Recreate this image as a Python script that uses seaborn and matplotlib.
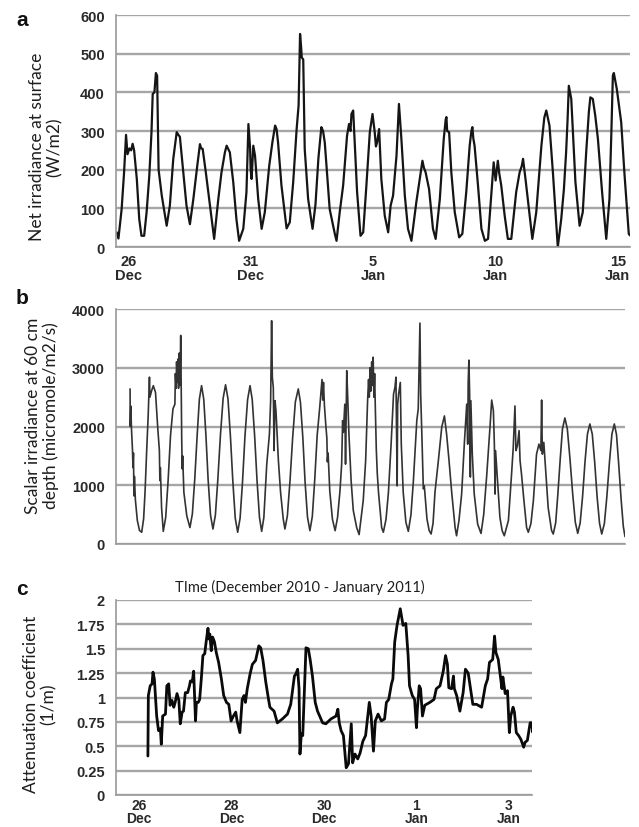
import matplotlib
matplotlib.use("Agg")
import matplotlib.pyplot as plt
import seaborn as sns

# ---- data (x in days since 26 Dec 2010, 00:00) ----

# a: net irradiance at surface (W/m2)
a_day = [0.03, 0.10, 0.23, 0.33, 0.41, 0.47, 0.55, 0.62, 0.68, 0.74, 0.85, 0.95,
         1.04, 1.15, 1.25, 1.36, 1.45, 1.50, 1.57, 1.63, 1.68, 1.74, 1.87,
         2.07, 2.20, 2.34, 2.48, 2.55, 2.61, 2.75, 2.88,
         3.02, 3.16, 3.32, 3.43, 3.48, 3.54, 3.67, 3.84,
         4.01, 4.18, 4.31, 4.45, 4.52, 4.65, 4.79, 4.92,
         5.03, 5.20, 5.33, 5.41, 5.48, 5.50, 5.54, 5.61, 5.68, 5.81, 5.95,
         6.08, 6.26, 6.39, 6.50, 6.56, 6.62, 6.76, 6.97,
         7.10, 7.24, 7.38, 7.46, 7.52, 7.56, 7.59, 7.65, 7.71, 7.85,
         8.03, 8.15, 8.27, 8.39, 8.46, 8.53, 8.60, 8.73, 8.94,
         9.01, 9.14, 9.28, 9.44, 9.52, 9.58, 9.62, 9.69, 9.76, 9.85,
         9.99, 10.10, 10.23, 10.37, 10.48, 10.57, 10.62, 10.67, 10.75, 10.84, 10.98,
         11.12, 11.22, 11.32, 11.46, 11.56, 11.66, 11.80, 11.93,
         12.07, 12.27, 12.41, 12.52, 12.58, 12.65, 12.79, 12.95,
         13.06, 13.23, 13.39, 13.47, 13.50, 13.53, 13.61, 13.70, 13.84,
         14.02, 14.15, 14.31, 14.45, 14.52, 14.56, 14.60, 14.65, 14.79, 14.93,
         15.07, 15.20, 15.33, 15.43, 15.51, 15.60, 15.66, 15.74, 15.88,
         16.01, 16.15, 16.35, 16.49, 16.58, 16.63, 16.73, 16.87,
         17.01, 17.17, 17.38, 17.50, 17.58, 17.71, 17.85,
         18.05, 18.19, 18.30, 18.39, 18.45, 18.50, 18.60, 18.77, 18.94,
         19.07, 19.21, 19.32, 19.38, 19.48, 19.58, 19.69, 19.86,
         20.03, 20.16, 20.24, 20.30, 20.34, 20.46, 20.64, 20.77, 20.95, 21.0]
a_val = [38, 22, 98, 193, 290, 240, 255, 250, 267, 250, 176, 72,
         29, 29, 90, 184, 297, 396, 400, 450, 443, 200, 133,
         55, 107, 228, 297, 290, 285, 193, 107,
         59, 124, 210, 266, 255, 254, 193, 107,
         21, 124, 193, 245, 262, 245, 168, 72,
         16, 47, 142, 318, 254, 200, 176, 262, 236, 124, 47,
         90, 210, 271, 314, 305, 271, 159, 48,
         64, 168, 305, 366, 551, 520, 490, 485, 254, 124,
         47, 110, 230, 310, 300, 270, 210, 98, 34,
         16, 90, 159, 288, 318, 300, 344, 353, 262, 142,
         29, 38, 159, 297, 344, 297, 260, 271, 305, 176, 81,
         38, 107, 133, 236, 370, 279, 133, 47,
         16, 116, 176, 223, 205, 193, 150, 47,
         21, 124, 279, 330, 336, 300, 297, 193, 90,
         25, 34, 142, 262, 300, 310, 280, 262, 159, 47,
         16, 21, 133, 219, 172, 223, 190, 159, 81,
         21, 21, 142, 193, 210, 228, 176, 98,
         21, 90, 262, 335, 353, 314, 193,
         0, 72, 150, 245, 330, 417, 383, 168, 55,
         90, 245, 350, 387, 383, 340, 279, 142,
         21, 124, 300, 443, 450, 409, 323, 193, 34, 30]

# b: scalar irradiance at 60 cm depth (micromole/m2/s)
b_day = [0.58, 0.59, 0.61, 0.64, 0.68, 0.70, 0.72, 0.74, 0.76, 0.80, 0.88, 0.97,
         1.06, 1.14, 1.20, 1.26, 1.33, 1.38, 1.40, 1.47, 1.54, 1.63, 1.72, 1.79, 1.81, 1.83, 1.88,
         1.95, 2.05, 2.15, 2.25, 2.35, 2.43, 2.45, 2.48, 2.50, 2.53, 2.56, 2.58, 2.61, 2.64,
         2.67, 2.69, 2.71, 2.73, 2.75, 2.80, 2.92,
         3.05, 3.15, 3.25, 3.35, 3.44, 3.53, 3.62, 3.71, 3.80, 3.90,
         4.00, 4.10, 4.20, 4.31, 4.42, 4.52, 4.62, 4.72, 4.82, 4.92,
         5.02, 5.12, 5.22, 5.32, 5.43, 5.53, 5.62, 5.72, 5.82, 5.92,
         6.01, 6.10, 6.22, 6.33, 6.38, 6.42, 6.45, 6.49, 6.52, 6.56, 6.60, 6.70, 6.79, 6.90,
         6.97, 7.07, 7.18, 7.29, 7.40, 7.52, 7.61, 7.71, 7.80, 7.90,
         8.00, 8.10, 8.20, 8.30, 8.40, 8.46, 8.50, 8.53, 8.56, 8.60, 8.66, 8.70, 8.72, 8.75, 8.82, 8.93,
         9.04, 9.14, 9.24, 9.31, 9.35, 9.38, 9.44, 9.47, 9.52, 9.56, 9.61, 9.70, 9.79, 9.93,
         10.03, 10.20, 10.30, 10.38, 10.42, 10.45, 10.48, 10.51, 10.55, 10.58, 10.61, 10.64,
         10.67, 10.70, 10.74, 10.78, 10.83, 10.96,
         11.03, 11.14, 11.24, 11.35, 11.45, 11.51, 11.55, 11.60, 11.62, 11.66, 11.73, 11.77, 11.85, 11.96,
         12.06, 12.17, 12.27, 12.41, 12.47, 12.54, 12.57, 12.61, 12.68, 12.72, 12.83, 12.92,
         13.00, 13.08, 13.16, 13.30, 13.44, 13.55, 13.64, 13.74, 13.85, 13.99,
         14.05, 14.15, 14.26, 14.37, 14.47, 14.51, 14.53, 14.56, 14.59, 14.62, 14.64, 14.70, 14.78, 14.92,
         15.06, 15.17, 15.29, 15.43, 15.50, 15.57, 15.61, 15.64, 15.66, 15.74, 15.84, 15.93,
         16.02, 16.19, 16.32, 16.39, 16.46, 16.50, 16.56, 16.63, 16.67, 16.73, 16.83, 16.94,
         17.01, 17.12, 17.22, 17.35, 17.45, 17.53, 17.56, 17.59, 17.65, 17.72, 17.83, 17.97,
         18.04, 18.14, 18.23, 18.33, 18.42, 18.52, 18.62, 18.73, 18.84, 18.95,
         19.05, 19.15, 19.25, 19.35, 19.45, 19.55, 19.65, 19.75, 19.85, 19.95,
         20.04, 20.15, 20.25, 20.36, 20.46, 20.56, 20.65, 20.74, 20.84, 20.93, 21.0]
b_val = [2640, 2000, 2350, 1950, 1600, 1300, 1550, 820, 1150, 750, 400, 230,
         200, 430, 900, 1530, 2210, 2840, 2500, 2610, 2695, 2580, 1990, 1590, 1080, 1300, 620,
         215, 450, 1080, 1850, 2300, 2380, 2900, 2650, 3100, 2750, 3150, 2650, 3250, 2700,
         3550, 2600, 1820, 1280, 1500, 880, 480,
         280, 510, 1110, 1860, 2465, 2695, 2465, 1850, 1100, 490,
         255, 490, 1090, 1860, 2480, 2710, 2470, 1840, 1070, 440,
         200, 440, 1060, 1830, 2460, 2695, 2460, 1840, 1070, 450,
         215, 450, 1360, 1870, 2440, 3800, 2840, 2660, 1590, 2440, 2270, 1420, 880, 425,
         255, 480, 1080, 1820, 2420, 2640, 2410, 1800, 1060, 460,
         227, 470, 1100, 1850, 2300, 2600, 2800, 2450, 2750, 2350, 2000, 1800, 1400, 1550, 900, 420,
         227, 450, 900, 1360, 2100, 1900, 2380, 1360, 2950, 2500, 1870, 1080, 570, 280,
         160, 740, 1420, 2440, 2800, 2500, 3000, 2600, 3100, 2700, 3180, 2500,
         2900, 2300, 1600, 1200, 880, 280,
         200, 420, 880, 1700, 2550, 2670, 2840, 990, 2380, 2550, 2750, 1700, 880, 370,
         215, 500, 1080, 2100, 2300, 3760, 2550, 1990, 940, 990, 425, 230,
         170, 350, 880, 1420, 1990, 2180, 1870, 1420, 880, 280,
         140, 400, 850, 1700, 2380, 1700, 2750, 3130, 2550, 1140, 2440, 1530, 850, 340,
         180, 500, 1140, 1990, 2450, 2270, 1700, 850, 1590, 1080, 450, 230,
         140, 400, 1190, 1650, 2350, 1590, 1670, 1930, 1420, 1190, 740, 280,
         200, 350, 740, 1530, 1700, 1590, 2450, 1530, 1730, 1300, 620, 230,
         170, 360, 850, 1460, 1960, 2145, 1960, 1450, 860, 370,
         181, 360, 810, 1400, 1870, 2043, 1870, 1390, 800, 350,
         170, 350, 800, 1400, 1870, 2043, 1860, 1360, 760, 300, 125]

# c: attenuation coefficient (1/m)
c_day = [0.69, 0.70, 0.74, 0.78, 0.80, 0.83, 0.88, 0.92, 0.96, 0.98, 1.01, 1.07, 1.10, 1.14,
         1.17, 1.21, 1.25, 1.28, 1.32, 1.36, 1.39, 1.43, 1.46, 1.50, 1.55, 1.59, 1.61, 1.65,
         1.68, 1.72, 1.74, 1.78, 1.81, 1.85, 1.88, 1.92, 1.95, 1.99, 2.01, 2.03, 2.06, 2.09,
         2.13, 2.17, 2.22, 2.28, 2.33, 2.39, 2.44, 2.49, 2.54, 2.59, 2.62, 2.68, 2.73, 2.77,
         2.80, 2.84, 2.90, 2.95, 3.02, 3.09, 3.13, 3.18, 3.24, 3.30, 3.33, 3.42, 3.49, 3.60,
         3.71, 3.78, 3.86, 3.89, 3.93, 3.96, 3.98, 4.01, 4.04, 4.11, 4.16, 4.20, 4.25, 4.31,
         4.36, 4.47, 4.54, 4.65, 4.76, 4.80, 4.83, 4.87, 4.92, 4.98, 5.03, 5.09, 5.12, 5.17,
         5.23, 5.28, 5.34, 5.40, 5.43, 5.48, 5.52, 5.57, 5.61, 5.67, 5.74, 5.81, 5.85, 5.90,
         5.96, 5.99, 6.03, 6.08, 6.15, 6.21, 6.27, 6.32, 6.35, 6.41, 6.46, 6.50, 6.52, 6.56,
         6.59, 6.63, 6.68, 6.79, 6.88, 6.93, 7.01, 7.08, 7.13, 7.17, 7.20, 7.26, 7.30, 7.32,
         7.37, 7.44, 7.51, 7.56, 7.62, 7.67, 7.72, 7.80, 7.91, 7.99, 8.04, 8.08, 8.15, 8.19,
         8.22, 8.27, 8.31, 8.35, 8.37, 8.42, 8.47, 8.51, 8.54, 8.59, 8.62, 8.66, 8.71, 8.76,
         8.82, 8.85, 8.90, 8.96, 8.99, 9.02, 9.05]
c_val = [0.40, 1.02, 1.12, 1.14, 1.26, 1.19, 0.81, 0.66, 0.68, 0.52, 0.81, 0.83, 1.12, 1.14,
         0.92, 0.97, 0.90, 0.95, 1.04, 0.97, 0.73, 0.85, 0.86, 1.05, 1.05, 1.12, 1.17, 1.16,
         1.27, 0.76, 0.95, 0.95, 0.98, 1.22, 1.43, 1.45, 1.57, 1.71, 1.60, 1.65, 1.48, 1.62,
         1.57, 1.46, 1.36, 1.19, 1.02, 0.95, 0.93, 0.76, 0.81, 0.85, 0.76, 0.64, 0.98, 1.02,
         0.95, 1.09, 1.24, 1.34, 1.38, 1.53, 1.51, 1.38, 1.16, 0.98, 0.90, 0.86, 0.74, 0.78,
         0.83, 0.93, 1.22, 1.24, 1.29, 1.09, 0.42, 0.63, 0.61, 1.51, 1.50, 1.39, 1.22, 0.95,
         0.86, 0.74, 0.73, 0.78, 0.81, 0.88, 0.74, 0.66, 0.61, 0.28, 0.32, 0.73, 0.33, 0.42,
         0.37, 0.43, 0.55, 0.61, 0.74, 0.95, 0.81, 0.45, 0.76, 0.83, 0.76, 0.78, 0.95, 0.98,
         1.14, 1.19, 1.57, 1.74, 1.91, 1.74, 1.76, 1.43, 1.12, 1.02, 0.98, 0.69, 0.88, 1.12,
         1.09, 0.81, 0.92, 0.95, 0.98, 1.09, 1.12, 1.27, 1.43, 1.34, 1.10, 1.09, 1.22, 1.09,
         1.02, 0.86, 1.05, 1.29, 1.25, 1.09, 0.93, 0.93, 0.90, 1.12, 1.19, 1.36, 1.39, 1.63,
         1.46, 1.39, 1.24, 1.09, 1.21, 1.04, 1.07, 0.64, 0.81, 0.90, 0.85, 0.64, 0.61, 0.57,
         0.49, 0.54, 0.56, 0.74, 0.74, 0.64, 0.77]

ab_ticklabels = ["26\nDec", "31\nDec", "5\nJan", "10\nJan", "15\nJan"]
c_ticklabels = ["26\nDec", "28\nDec", "30\nDec", "1\nJan", "3\nJan"]

# ---- figure ----
sns.set_style("white")
plt.rcParams["font.family"] = ["Liberation Sans", "DejaVu Sans"]

W, H = 639, 828
fig = plt.figure(figsize=(W / 100, H / 100), dpi=100)

def box(l, t, r, b):
    return [l / W, 1 - b / H, (r - l) / W, (b - t) / H]

grid_col = "#a6a6a6"
tick_col = "#9a9a9a"
txt_col = "#2a2a2a"

def style(ax):
    for s in ["top", "right"]:
        ax.spines[s].set_visible(False)
    for s in ["left", "bottom"]:
        ax.spines[s].set_color(tick_col)
        ax.spines[s].set_linewidth(1.2)
    ax.yaxis.grid(True, color=grid_col, lw=1.7)
    ax.xaxis.grid(False)
    ax.set_axisbelow(True)
    ax.tick_params(axis="both", which="both", direction="out", color=tick_col,
                   width=1, labelsize=10.5, labelcolor=txt_col)
    ax.tick_params(axis="x", which="major", length=4)
    ax.tick_params(axis="y", which="major", length=4, pad=4)
    for t in ax.get_xticklabels(which="both") + ax.get_yticklabels():
        t.set_fontweight("bold")
    ax.set_xlabel("")
    ax.set_ylabel("")

# panel a
ax1 = fig.add_axes(box(116, 16, 630, 248))
sns.lineplot(x=a_day, y=a_val, ax=ax1, sort=False, estimator=None,
             color="#151515", lw=1.6)
ax1.set_xlim(0, 21)
ax1.set_ylim(0, 600)
ax1.set_yticks(range(0, 601, 100))
ax1.set_xticks(range(0, 22))
ax1.set_xticklabels([])
ax1.set_xticks([0.5, 5.5, 10.5, 15.5, 20.5], minor=True)
ax1.set_xticklabels(ab_ticklabels, minor=True, linespacing=1.05)
style(ax1)
ax1.tick_params(axis="x", which="minor", length=0, pad=5)

# panel b
ax2 = fig.add_axes(box(116, 310, 625, 545))
sns.lineplot(x=b_day, y=b_val, ax=ax2, sort=False, estimator=None,
             color="#333333", lw=1.2)
ax2.set_xlim(0, 21)
ax2.set_ylim(0, 4000)
ax2.set_yticks(range(0, 4001, 1000))
ax2.set_yticks(range(500, 4000, 1000), minor=True)
ax2.set_xticks(range(0, 22))
ax2.set_xticklabels([])
style(ax2)
ax2.tick_params(axis="y", which="minor", length=4)

# panel c
ax3 = fig.add_axes(box(116, 601, 532, 796))
sns.lineplot(x=c_day, y=c_val, ax=ax3, sort=False, estimator=None,
             color="#0a0a0a", lw=2.0)
ax3.set_xlim(0, 9)
ax3.set_ylim(0, 2)
ax3.set_yticks([0, 0.25, 0.5, 0.75, 1, 1.25, 1.5, 1.75, 2])
ax3.set_yticklabels(["0", "0.25", "0.5", "0.75", "1", "1.25", "1.5", "1.75", "2"])
ax3.set_xticks(range(0, 10))
ax3.set_xticklabels([])
ax3.set_xticks([0.5, 2.5, 4.5, 6.5, 8.5], minor=True)
ax3.set_xticklabels(c_ticklabels, minor=True, linespacing=0.92)
style(ax3)
ax3.tick_params(axis="x", which="minor", length=0, pad=2, labelsize=10)

# y labels and panel letters
lab = dict(rotation=90, ha="center", va="center", fontsize=12.5,
           family=["Lato", "DejaVu Sans"], color="#1e1e1e", linespacing=1.15)
fig.text(46 / W, 1 - 147 / H, "Net irradiance at surface\n(W/m2)", **lab)
fig.text(42 / W, 1 - 416 / H, "Scalar irradiance at 60 cm\ndepth (micromole/m2/s)", **lab)
fig.text(40 / W, 1 - 704 / H, "Attenuation coefficient\n(1/m)", **lab)

for letter, yy in [("a", 20), ("b", 298), ("c", 590)]:
    fig.text(22 / W, 1 - yy / H, letter, fontsize=15, weight="bold",
             ha="center", va="center", color="#111")

fig.text(300 / W, 1 - 587 / H, "TIme (December 2010 - January 2011)",
         fontsize=10.5, ha="center", va="center", color="#1e1e1e",
         family=["Lato", "DejaVu Sans"])

fig.savefig("out.png", dpi=100)
